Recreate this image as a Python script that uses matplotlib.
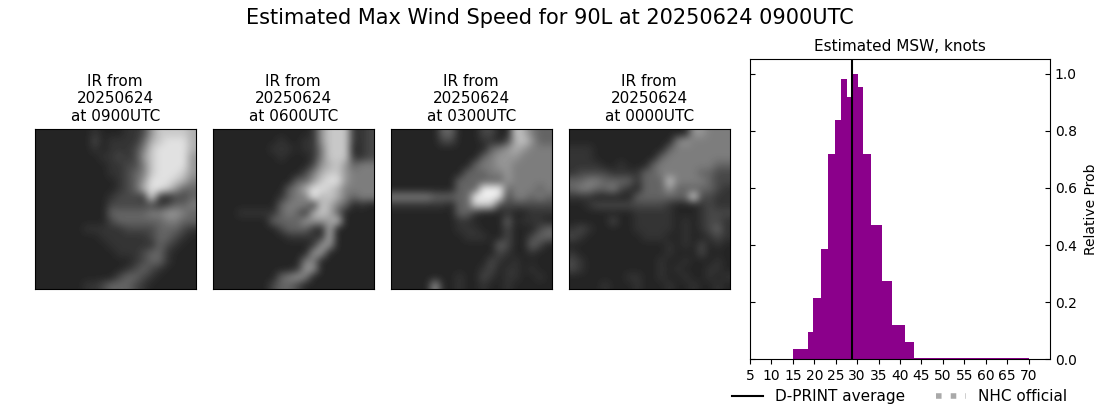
import numpy as np
import matplotlib
matplotlib.use('Agg')
import matplotlib.pyplot as plt

# histogram
bin_edges = [15.0, 18.5, 19.7, 21.6, 23.2, 24.8, 26.2, 27.6, 29.0, 30.2, 31.4, 33.2,
             35.8, 38.1, 41.2, 43.3, 70.0]
rel_prob = [0.036, 0.096, 0.214, 0.386, 0.718, 0.837, 0.98, 0.917, 1.0, 0.952, 0.718,
            0.47, 0.274, 0.12, 0.06, 0.005]
dprint_avg = 28.8
x_ticks = list(range(5, 75, 5))
y_ticks = [0.0, 0.2, 0.4, 0.6, 0.8, 1.0]

ir_times = ['0900', '0600', '0300', '0000']

# coarse brightness of each IR frame, one digit per cell
gray_levels = [36, 52, 72, 100, 125, 150, 175, 200, 225, 240]

ir_0900 = [
    "00000001000112577776", "00000002011113678886", "00000001011124788886",
    "00000000112125788885", "00000000011224788885", "00000000011234788875",
    "00000000001235888764", "00000000001236887533", "00000000012221810223",
    "00000000022222212334", "00000000033333445543", "00000000023333334433",
    "00000011111222233321", "00000000111111233210", "00000000011111132100",
    "00000000001112331000", "00000000000012331000", "00000000000123210000",
    "00000000002332100000", "00000011233321000000",
]
ir_0600 = [
    "00000000000015777112", "00000000100115777112", "00000001110114777012",
    "00000000100014777112", "00000000000025675344", "00000000000246775444",
    "00000000003357885444", "00000000034688764444", "00000000134496764344",
    "00000000344417643010", "00011111343167630000", "00000003333555570000",
    "00000000233310600000", "00000000011111600000", "00000000000015500000",
    "00000000000055000000", "00000000000440000000", "00000000001550000000",
    "00000000345400000000", "00000002332000000000",
]
ir_0300 = [
    "00000033000220076433", "00000022000110267533", "00000000000034565444",
    "00000000000345554444", "00000000003445544444", "00000000033344544444",
    "00000000333333544444", "00000000333999344434", "44444333339998244343",
    "11111110337772222222", "00000000331000100111", "00000000110000301110",
    "00000000111000200023", "00000000011100200233", "00000000000003200320",
    "00000000000002100100", "00000000000021010000", "00000000000120110100",
    "00000000100210110010", "00000500100100100000",
]
ir_0000 = [
    "00000000000000055444", "00000000000004544444", "11100000000034444444",
    "11100000000344444444", "11110010003444444433", "12222111133444443322",
    "33443333133374444322", "34433421033353333321", "11100000333333382211",
    "00122222222210001211", "00000000111110001222", "00000200111110101221",
    "12100000111110101231", "21000000011100100121", "00000000000010102010",
    "10000000000010002000", "21000000000100100010", "21000000000101000110",
    "00000001100100100101", "00001000100010010010",
]
ir_frames = [ir_0900, ir_0600, ir_0300, ir_0000]

W, H = 1100, 409


def px_axes(fig, left, top, right, bottom):
    """axes from pixel edges, y counted from the top of the figure"""
    return fig.add_axes((left / W, 1 - bottom / H, (right - left) / W, (bottom - top) / H))


fig = plt.figure(figsize=(W / 100, H / 100), dpi=100)
fig.text(550 / W, 1 - 18 / H, 'Estimated Max Wind Speed for 90L at 20250624 0900UTC',
         fontsize=15, ha='center', va='center')

panel_lefts = [35, 213, 391, 569]
for left, frame, time in zip(panel_lefts, ir_frames, ir_times):
    ax = px_axes(fig, left, 129, left + 160.6, 289)
    img = np.array([[gray_levels[int(c)] for c in row] for row in frame])
    ax.imshow(img, cmap='gray', vmin=0, vmax=255, interpolation='bicubic', aspect='auto')
    ax.set_xticks([])
    ax.set_yticks([])
    ax.set_title(f'IR from\n20250624\nat {time}UTC', fontsize=11)

ax = px_axes(fig, 750, 59.4, 1050, 359.4)
ax.stairs(rel_prob, bin_edges, fill=True, color='darkmagenta')
ax.axvline(dprint_avg, color='k', lw=1.5, label='D-PRINT average')
ax.plot([], [], color='darkgray', ls=':', lw=4, label='NHC official')
ax.set_xlim(5, 75)
ax.set_ylim(0, 1.05)
ax.set_xticks(x_ticks)
ax.set_yticks(y_ticks)
ax.tick_params(axis='y', direction='in', left=True, right=True, labelleft=False, labelright=True)
ax.yaxis.set_label_position('right')
ax.set_ylabel('Relative Prob', labelpad=5)
ax.set_title('Estimated MSW, knots', fontsize=11)
fig.legend(*ax.get_legend_handles_labels(), ncol=2, frameon=False, fontsize=11,
           loc='center left', bbox_to_anchor=(726 / W, 1 - 396.5 / H), borderaxespad=0)

fig.savefig('out.png', dpi=100)
